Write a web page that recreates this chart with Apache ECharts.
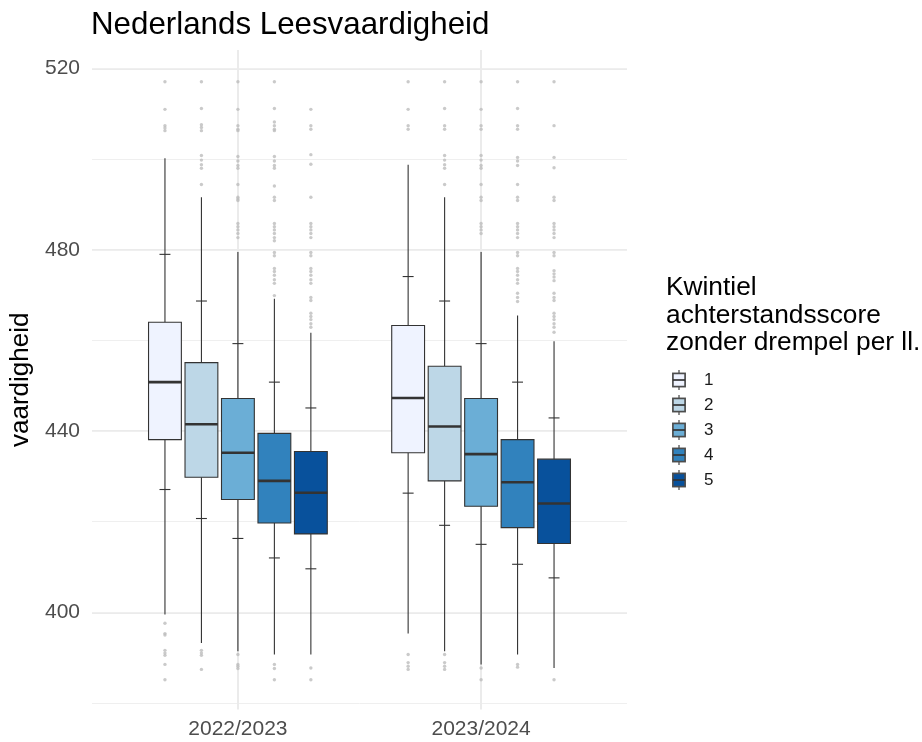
<!DOCTYPE html>
<html>
<head>
<meta charset="utf-8">
<script src="https://cdn.jsdelivr.net/npm/echarts@6/dist/echarts.min.js"></script>
<style>
  html, body { margin: 0; padding: 0; background: #fff; }
  #chart { width: 922px; height: 742px; }
</style>
</head>
<body>
<div id="chart"></div>
<script>
// categories
const years = ['2022/2023', '2023/2024'];
const quintiles = ['1', '2', '3', '4', '5'];
const fills = ['#EFF3FF', '#BDD7E7', '#6BAED6', '#3182BD', '#08519C'];

// box statistics, per quintile: [2022/2023, 2023/2024]
const whiskerLow = [[399.5, 395.3], [393.2, 391.4], [391.4, 388.5], [390.7, 390.7], [390.7, 387.7]];
const lowerQ = [[438.1, 435.2], [429.8, 429.0], [424.9, 423.4], [419.7, 418.7], [417.3, 415.2]];
const medians = [[450.8, 447.3], [441.5, 441.0], [435.2, 434.9], [429.0, 428.7], [426.4, 424.0]];
const upperQ = [[464.0, 463.3], [455.1, 454.3], [447.2, 447.2], [439.5, 438.1], [435.5, 433.8]];
const whiskerHigh = [[500.2, 498.8], [491.6, 491.6], [479.5, 479.5], [469.2, 465.5], [461.7, 459.8]];
// small error-bar ticks
const barLow = [[427.1, 426.3], [420.7, 419.2], [416.3, 415.0], [412.0, 410.6], [409.6, 407.6]];
const barHigh = [[479.0, 474.1], [468.7, 468.7], [459.3, 459.3], [450.8, 450.8], [445.1, 442.9]];

// outliers, per quintile: [2022/2023, 2023/2024]
const outliers = [
  [
    [517.1, 511.0, 507.4, 506.9, 506.3, 397.6, 395.3, 395.0, 391.6, 391.0, 390.5, 388.5, 385.1],
    [517.1, 511.0, 507.4, 506.6, 390.7, 388.9, 388.1, 387.4]
  ],
  [
    [517.1, 511.2, 507.6, 507.0, 506.3, 500.8, 499.8, 498.8, 498.0, 494.4, 391.6, 391.0, 390.5, 387.4],
    [517.1, 511.2, 507.4, 506.6, 500.8, 499.8, 498.8, 498.0, 494.4, 390.7, 388.9, 388.1, 387.4]
  ],
  [
    [517.1, 511.0, 507.4, 506.6, 506.3, 500.6, 499.6, 498.6, 498.0, 494.4, 491.6, 491.2, 490.9,
     485.8, 485.1, 484.4, 483.6, 482.7, 390.7, 388.5, 388.1, 387.6],
    [517.1, 511.0, 507.4, 506.6, 500.8, 499.8, 498.6, 498.0, 494.4, 491.6, 490.9,
     485.8, 485.1, 484.4, 483.6, 387.7, 385.1]
  ],
  [
    [517.1, 511.2, 508.2, 507.4, 506.6, 506.3, 500.6, 499.6, 498.6, 498.0, 494.1, 491.6, 490.9,
     485.8, 485.1, 484.4, 483.6, 482.7, 482.0, 479.4, 478.7, 475.9, 475.2, 474.4, 473.4, 472.6, 469.9,
     388.5, 387.6, 385.1],
    [517.1, 511.2, 507.4, 506.6, 500.4, 499.6, 498.6, 494.4, 491.6, 490.9, 485.8, 485.1, 484.4,
     483.6, 482.7, 479.4, 478.7, 475.9, 475.2, 474.4, 473.4, 472.6, 470.4, 469.5, 468.6, 388.5, 387.9]
  ],
  [
    [511.0, 507.4, 506.6, 501.0, 498.9, 491.6, 485.8, 485.1, 484.4, 483.6, 482.7, 479.4, 478.7,
     475.9, 475.2, 474.4, 473.4, 472.6, 469.5, 468.8, 466.0, 465.3, 464.6, 463.7, 462.9, 387.7, 385.1],
    [517.1, 507.4, 500.4, 498.1, 491.6, 490.9, 485.8, 485.1, 484.4, 483.6, 482.7, 479.4, 478.7,
     475.4, 474.7, 474.0, 473.2, 470.4, 469.5, 468.8, 466.0, 465.3, 464.6, 463.7, 462.9, 461.8, 385.1]
  ]
];

const yTicks = [400, 440, 480, 520];

// dodge: 5 boxes share 0.75 of a category
const dodge = 0.15;
const xPos = (yi, qi) => yi + 1 + (qi - 2) * dodge;

const legendIcon = (color) => {
  const svg = "<svg xmlns='http://www.w3.org/2000/svg' width='14' height='20' viewBox='0 0 14 20'>" +
    "<line x1='7' y1='0' x2='7' y2='3.5' stroke='#333' stroke-width='1.1'/>" +
    "<line x1='7' y1='16.5' x2='7' y2='20' stroke='#333' stroke-width='1.1'/>" +
    "<rect x='0.9' y='3.4' width='12.2' height='13.2' fill='" + color + "' stroke='#4d4d4d' stroke-width='1.7'/>" +
    "<line x1='0.9' y1='10' x2='13.1' y2='10' stroke='#333' stroke-width='1.7'/></svg>";
  return 'image://data:image/svg+xml;charset=utf-8,' + encodeURIComponent(svg);
};

const chart = echarts.init(document.getElementById('chart'));

const series = [];
quintiles.forEach((q, qi) => {
  series.push({
    name: q,
    type: 'custom',
    xAxisIndex: 0,
    yAxisIndex: 0,
    z: 3,
    itemStyle: { color: fills[qi] },
    data: years.map((y, yi) => [
      xPos(yi, qi), whiskerLow[qi][yi], lowerQ[qi][yi], medians[qi][yi],
      upperQ[qi][yi], whiskerHigh[qi][yi], barLow[qi][yi], barHigh[qi][yi]
    ]),
    renderItem: (params, api) => {
      const x = api.value(0);
      const w = api.size([0.135, 0])[0];
      const tw = api.size([0.045, 0])[0];
      const pt = (i) => api.coord([x, api.value(i)]);
      const lo = pt(1), q1 = pt(2), md = pt(3), q3 = pt(4), hi = pt(5), bl = pt(6), bh = pt(7);
      const cx = lo[0];
      const dark = { stroke: '#333', lineWidth: 1.1 };
      return {
        type: 'group',
        children: [
          { type: 'line', shape: { x1: cx, y1: hi[1], x2: cx, y2: q3[1] }, style: dark },
          { type: 'line', shape: { x1: cx, y1: q1[1], x2: cx, y2: lo[1] }, style: dark },
          {
            type: 'rect',
            shape: { x: cx - w / 2, y: q3[1], width: w, height: q1[1] - q3[1] },
            style: { fill: fills[qi], stroke: '#333', lineWidth: 1.1 }
          },
          { type: 'line', shape: { x1: cx - w / 2, y1: md[1], x2: cx + w / 2, y2: md[1] },
            style: { stroke: '#333', lineWidth: 2.6 } },
          { type: 'line', shape: { x1: cx - tw / 2, y1: bl[1], x2: cx + tw / 2, y2: bl[1] }, style: dark },
          { type: 'line', shape: { x1: cx - tw / 2, y1: bh[1], x2: cx + tw / 2, y2: bh[1] }, style: dark }
        ]
      };
    }
  });
  const pts = [];
  years.forEach((y, yi) => {
    outliers[qi][yi].forEach(v => pts.push([xPos(yi, qi), v]));
  });
  series.push({
    name: q,
    type: 'scatter',
    xAxisIndex: 0,
    yAxisIndex: 0,
    z: 2,
    silent: true,
    symbol: 'circle',
    symbolSize: 3.4,
    itemStyle: { color: '#BDBDBD' },
    data: pts
  });
});

const option = {
  animation: false,
  textStyle: { fontFamily: 'Liberation Sans, Arial, sans-serif' },
  title: [
    {
      text: 'Nederlands Leesvaardigheid',
      left: 86,
      top: 5,
      textStyle: { fontSize: 31.3, fontWeight: 'normal', color: '#000' }
    },
    {
      text: 'Kwintiel\nachterstandsscore\nzonder drempel per ll.',
      left: 661,
      top: 269,
      textStyle: { fontSize: 26.3, fontWeight: 'normal', color: '#000', lineHeight: 27.5 }
    }
  ],
  legend: {
    orient: 'vertical',
    left: 667,
    top: 365,
    itemWidth: 14,
    itemHeight: 20,
    itemGap: 5,
    selectedMode: false,
    textStyle: { fontSize: 17, color: '#1a1a1a', padding: [0, 0, 0, 13] },
    data: quintiles.map((q, qi) => ({ name: q, icon: legendIcon(fills[qi]) }))
  },
  grid: { left: 90, right: 295, top: 50, bottom: 32.5 },
  xAxis: {
    type: 'value',
    min: 0.4,
    max: 2.6,
    minInterval: 1,
    maxInterval: 1,
    axisLine: { show: false },
    axisTick: { show: false },
    axisLabel: {
      color: '#4D4D4D',
      fontSize: 21,
      margin: 9,
      formatter: (v) => (Number.isInteger(v) && years[v - 1]) ? years[v - 1] : ''
    },
    splitLine: {
      show: true, showMinLine: false, showMaxLine: false,
      lineStyle: { color: '#EBEBEB', width: 2 }
    }
  },
  yAxis: [
    {
      type: 'value',
      min: 378.55,
      max: 524.1,
      minInterval: 40,
      maxInterval: 40,
      name: 'vaardigheid',
      nameLocation: 'middle',
      nameRotate: 90,
      nameGap: 58,
      nameTextStyle: { fontSize: 26, color: '#000' },
      axisLine: { show: false },
      axisTick: { show: false },
      axisLabel: {
        color: '#4D4D4D',
        fontSize: 21,
        margin: 12,
        formatter: (v) => yTicks.includes(v) ? String(v) : ''
      },
      splitLine: {
        show: true, showMinLine: false, showMaxLine: false,
        lineStyle: { color: '#EBEBEB', width: 2 }
      }
    },
    {
      type: 'value',
      min: 378.55,
      max: 524.1,
      minInterval: 20,
      maxInterval: 20,
      axisLine: { show: false },
      axisTick: { show: false },
      axisLabel: { show: false },
      splitLine: {
        show: true, showMinLine: false, showMaxLine: false,
        lineStyle: { color: '#EFEFEF', width: 1 }
      }
    }
  ],
  series: series
};

chart.setOption(option);
</script>
</body>
</html>
